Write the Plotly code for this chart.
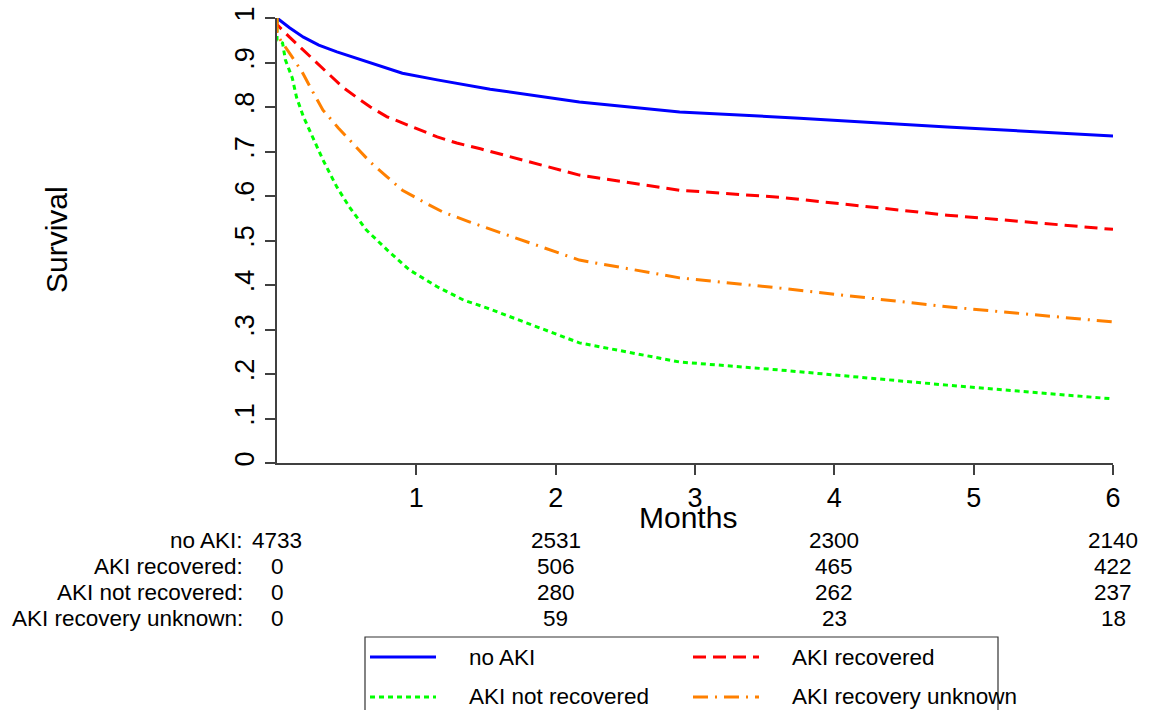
import plotly.graph_objects as go

# ---------------- data ----------------
months_noaki = [0, 0.02, 0.09, 0.19, 0.30, 0.43, 0.67, 0.90, 1.15, 1.53, 2.17, 2.89, 3.75, 4.81, 6.0]
surv_noaki = [1.0, 0.995, 0.978, 0.957, 0.939, 0.924, 0.899, 0.876, 0.861, 0.840, 0.811, 0.789,
              0.775, 0.755, 0.735]

months_rec = [0, 0, 0.09, 0.19, 0.29, 0.38, 0.47, 0.57, 0.67, 0.79, 0.90, 1.02, 1.15, 1.29, 1.46,
              2.17, 2.89, 3.61, 4.81, 6.0]
surv_rec = [1.0, 0.985, 0.957, 0.928, 0.899, 0.872, 0.845, 0.822, 0.800, 0.778, 0.764, 0.748, 0.733,
            0.719, 0.706, 0.647, 0.613, 0.597, 0.557, 0.525]

months_notrec = [0, 0, 0.04, 0.06, 0.11, 0.14, 0.19, 0.26, 0.33, 0.43, 0.52, 0.64, 0.79, 0.95, 1.15,
                 1.34, 1.51, 2.17, 2.89, 3.61, 4.81, 6.0]
surv_notrec = [1.0, 0.95, 0.944, 0.906, 0.865, 0.822, 0.778, 0.730, 0.681, 0.620, 0.575, 0.524, 0.479,
               0.434, 0.396, 0.366, 0.348, 0.270, 0.227, 0.209, 0.175, 0.144]

months_unk = [0, 0, 0.09, 0.18, 0.25, 0.33, 0.44, 0.55, 0.67, 0.79, 0.90, 1.05, 1.19, 1.38, 1.53,
              2.17, 2.89, 3.61, 4.81, 6.0]
surv_unk = [1.0, 0.962, 0.921, 0.879, 0.838, 0.793, 0.753, 0.715, 0.676, 0.643, 0.613, 0.587, 0.564,
            0.542, 0.526, 0.456, 0.416, 0.393, 0.351, 0.317]

group_labels = ["no AKI", "AKI recovered", "AKI not recovered", "AKI recovery unknown"]
risk_months = [0, 2, 4, 6]
risk_noaki = [4733, 2531, 2300, 2140]
risk_rec = [0, 506, 465, 422]
risk_notrec = [0, 280, 262, 237]
risk_unk = [0, 59, 23, 18]

x_ticks = [1, 2, 3, 4, 5, 6]
y_ticks = [0, 0.1, 0.2, 0.3, 0.4, 0.5, 0.6, 0.7, 0.8, 0.9, 1.0]
y_ticktext = ["0", ".1", ".2", ".3", ".4", ".5", ".6", ".7", ".8", ".9", "1"]

# ---------------- styling ----------------
FONT = "Liberation Sans, Arial, sans-serif"
W, H = 1157, 710
# target plot area in window pixels: x 277..1113, y 18..463 (page margin removed below)
X0, X1, Y0, Y1 = 277, 1113, 18, 463
L, R, T, B = X0, W - X1, Y0, H - Y1
PW, PH = X1 - X0, Y1 - Y0

colors = ["#0000ff", "#ff0000", "#00ff00", "#ff8000"]
dashes = ["solid", "13px,7px", "5px,4px", "15px,7px,2px,7px"]
LW = 3


def py(p):  # window pixel row -> paper y
    return (Y1 - p) / PH


def px(p):  # window pixel col -> paper x
    return (p - X0) / PW


fig = go.Figure()
series = [(months_noaki, surv_noaki), (months_rec, surv_rec),
          (months_notrec, surv_notrec), (months_unk, surv_unk)]
for (xs, ys), c, d, name in zip(series, colors, dashes, group_labels):
    fig.add_trace(go.Scatter(x=xs, y=ys, mode="lines", name=name,
                             line=dict(color=c, width=LW, dash=d),
                             showlegend=False, cliponaxis=False))

TS = 22.5
annotations = []
# axis titles
annotations.append(dict(text="Months", xref="paper", yref="paper", x=px(688), y=py(517),
                        showarrow=False, font=dict(size=30, family=FONT, color="black"),
                        xanchor="center", yanchor="middle"))
annotations.append(dict(text="Survival", xref="paper", yref="paper", x=px(57), y=py(240),
                        showarrow=False, textangle=-90,
                        font=dict(size=30, family=FONT, color="black"),
                        xanchor="center", yanchor="middle"))

# number-at-risk table
row_y = [540, 566, 592, 618]
risk_rows = [risk_noaki, risk_rec, risk_notrec, risk_unk]
for lab, vals, ry in zip(group_labels, risk_rows, row_y):
    annotations.append(dict(text=lab + ":", xref="paper", yref="paper", x=px(245), y=py(ry),
                            showarrow=False, xanchor="right", yanchor="middle",
                            font=dict(size=TS, family=FONT, color="black")))
    for m, v in zip(risk_months, vals):
        annotations.append(dict(text=str(v), xref="x", yref="paper", x=m, y=py(ry),
                                showarrow=False, xanchor="center", yanchor="middle",
                                font=dict(size=TS, family=FONT, color="black")))

# legend (drawn box)
shapes = [dict(type="rect", xref="paper", yref="paper", x0=px(365), x1=px(998),
               y0=py(760), y1=py(637), line=dict(color="#333333", width=1.2),
               fillcolor="rgba(0,0,0,0)")]
leg_pos = [(370, 436, 467, 657), (693, 759, 790, 657), (370, 436, 467, 697), (693, 759, 790, 697)]
for (x0, x1, tx, ly), c, d, name in zip(leg_pos, colors, dashes, group_labels):
    shapes.append(dict(type="line", xref="paper", yref="paper", x0=px(x0), x1=px(x1),
                       y0=py(ly), y1=py(ly), line=dict(color=c, width=LW, dash=d)))
    annotations.append(dict(text=name, xref="paper", yref="paper", x=px(tx), y=py(ly),
                            showarrow=False, xanchor="left", yanchor="middle",
                            font=dict(size=TS, family=FONT, color="black")))

fig.update_layout(
    width=W, height=H,
    margin=dict(l=L, r=R, t=T, b=B, pad=0, autoexpand=False),
    plot_bgcolor="white", paper_bgcolor="white",
    font=dict(family=FONT, color="black"),
    showlegend=False,
    annotations=annotations,
    shapes=shapes,
    xaxis=dict(range=[0, 6], tickvals=x_ticks, ticktext=[str(t) for t in x_ticks],
               showgrid=False, zeroline=False, showline=True, linecolor="#404040", linewidth=2,
               ticks="outside", ticklen=10, tickwidth=1.5, tickcolor="#404040",
               ticklabeloverflow="allow", automargin=False,
               tickfont=dict(size=27, family=FONT, color="black"), fixedrange=True),
    yaxis=dict(range=[0, 1], tickvals=y_ticks, ticktext=y_ticktext, tickangle=-90,
               showgrid=False, zeroline=False, showline=True, linecolor="#404040", linewidth=2,
               ticks="outside", ticklen=10, tickwidth=1.5, tickcolor="#404040",
               ticklabeloverflow="allow", automargin=False,
               tickfont=dict(size=27, family=FONT, color="black"), fixedrange=True),
)

fig.write_html("out.html", config={"displayModeBar": False},
               post_script="document.body.style.margin='0px';"
                           "document.body.style.overflow='hidden';")
